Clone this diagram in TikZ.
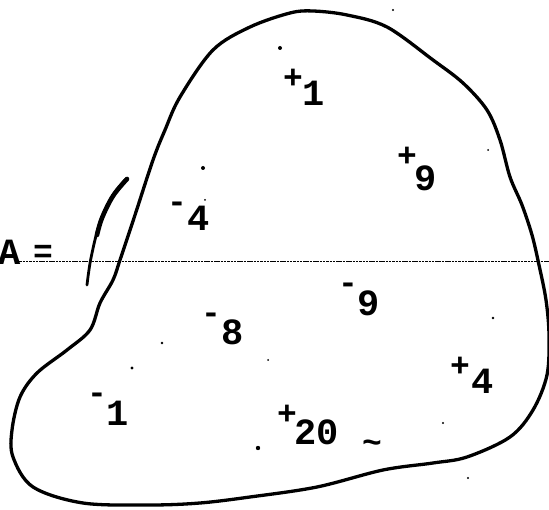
\documentclass[tikz,border=0pt]{standalone}
\usepackage{fontspec}
\setmonofont{Liberation Mono}
\begin{document}
\begin{tikzpicture}[x=1pt,y=-1pt,
  digit/.style={font=\ttfamily\bfseries\fontsize{37}{37}\selectfont, inner sep=0pt},
  sign/.style={font=\ttfamily\bfseries\fontsize{33}{33}\selectfont, inner sep=0pt},
  speck/.style={fill=black, draw=none},
  outline/.style={line width=3.3pt, line join=round}]
\useasboundingbox (0,0) rectangle (549,510);
\clip (0,0) rectangle (549,510);
% dotted axis line
\draw[line width=0.9pt, dash pattern=on 2.5pt off 0.8pt] (16,261) -- (549,261);
\node[digit, anchor=south west] (A) at (-2,265) {A};
\node[sign] (eq) at (43,254) {=};
% blob
\draw[outline] plot[smooth cycle, tension=0.55] coordinates {
 (313,11) (347,15) (387,27) (433,60) (463,83) (487,110) (500,140) (510,177)
 (522,205) (532,235) (539,265) (546,300) (549,335) (547,375) (533,410) (510,437)
 (467,457) (433,463) (383,470) (317,487) (250,497) (200,503) (150,505) (83,503)
 (33,487) (13,457) (12,430) (20,397) (37,373) (67,350) (90,330) (100,303)
 (113,280) (120,260) (135,215) (153,160) (165,130) (180,97) (213,50) (250,27) (290,13)};
% short stroke, heavier at the top
\draw[line width=2.8pt, line cap=round] plot[smooth, tension=0.6] coordinates {(127,178) (113,195) (100,222) (91,258) (87,285)};
\draw[line width=4.6pt, line cap=round] plot[smooth, tension=0.6] coordinates {(127,179) (113,196) (102,218) (97,235)};
% labels
\node[sign] (s1) at (293,79) {+};  \node[digit] (n1) at (314,93) {1};
\node[sign] (s9) at (407,157) {+}; \node[digit] (n9) at (426,178) {9};
\node[sign] (s4) at (177,207) {-}; \node[digit] (n4) at (199,218) {4};
\node[sign] (s8) at (211,318) {-}; \node[digit] (n8) at (233,332) {8};
\node[sign] (sn9) at (348,288) {-}; \node[digit] (nn9) at (369,303) {9};
\node[sign] (sp4) at (460,367) {+}; \node[digit] (np4) at (483,381) {4};
\node[sign] (sm1) at (97,398) {-}; \node[digit] (nm1) at (118,413) {1};
\node[sign] (s20) at (287,415) {+}; \node[digit] (n20) at (317,432) {20};
\node[sign] (tl) at (372,447) {\char`\~};
% specks
\fill[speck] (280,48) circle (2);
\fill[speck] (203,168) circle (2);
\fill[speck] (258,448) circle (2.2);
\fill[speck] (132,368) circle (1.6);
\fill[speck] (162,343) circle (1.4);
\fill[speck] (493,318) circle (1.4);
\fill[speck] (393,10) circle (1.2);
\fill[speck] (443,423) circle (1.2);
\fill[speck] (468,478) circle (1.2);
\fill[speck] (205,200) circle (1.0);
\fill[speck] (268,360) circle (1.0);
\fill[speck] (488,150) circle (1.0);
\end{tikzpicture}
\end{document}
